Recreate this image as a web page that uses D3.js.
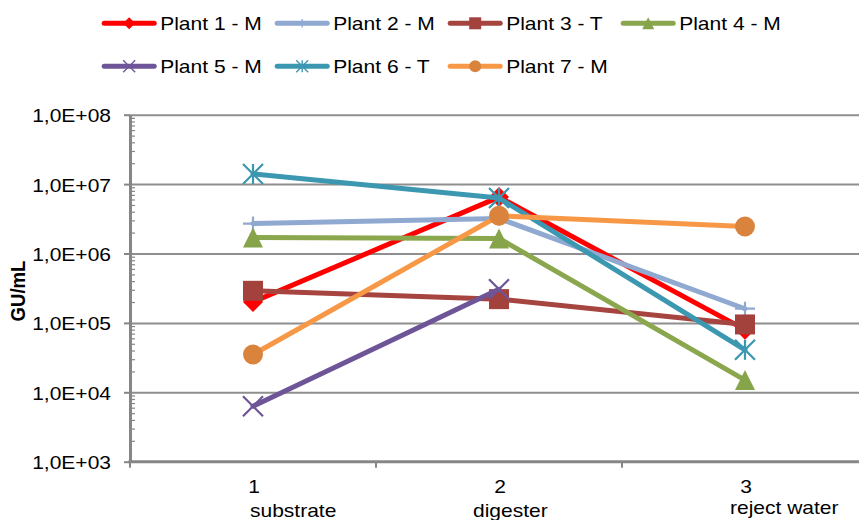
<!DOCTYPE html>
<html>
<head>
<meta charset="utf-8">
<script src="https://cdn.jsdelivr.net/npm/d3@7/dist/d3.min.js"></script>
<style>
  html, body { margin: 0; padding: 0; background: #fff; }
  svg { display: block; font-family: "Liberation Sans", Arial, sans-serif; }
</style>
</head>
<body>
<svg id="chart" width="859" height="520"></svg>
<script>
// Sampling points along the plant
const categories = ["1", "2", "3"];
const categoryNames = ["substrate", "digester", "reject water"];

// Gene copies per mL at each sampling point (null = not measured)
const plant1 = [2.0e5, 6.5e6, 8.0e4];
const plant2 = [2.7e6, 3.2e6, 1.6e5];
const plant3 = [2.9e5, 2.2e5, 9.5e4];
const plant4 = [1.7e6, 1.65e6, 1.5e4];
const plant5 = [6.3e3, 3.05e5, null];
const plant6 = [1.4e7, 6.3e6, 4.1e4];
const plant7 = [3.5e4, 3.5e6, 2.45e6];

const seriesNames = ["Plant 1 - M", "Plant 2 - M", "Plant 3 - T", "Plant 4 - M",
                     "Plant 5 - M", "Plant 6 - T", "Plant 7 - M"];

const yTickValues = [1e3, 1e4, 1e5, 1e6, 1e7, 1e8];
const yTickLabels = ["1,0E+03", "1,0E+04", "1,0E+05", "1,0E+06", "1,0E+07", "1,0E+08"];
const yTitle = "GU/mL";

const styles = [
  { line: "#FF0000", mark: "#FF0000", shape: "diamond" },
  { line: "#8FA9D1", mark: "#8FA9D1", shape: "plus" },
  { line: "#A6443F", mark: "#A3413D", shape: "square" },
  { line: "#8AA74D", mark: "#86A44A", shape: "triangle" },
  { line: "#6E5597", mark: "#6E5597", shape: "cross" },
  { line: "#3C97B1", mark: "#3C97B1", shape: "star" },
  { line: "#F79846", mark: "#D9833C", shape: "circle" }
];

const seriesValues = [plant1, plant2, plant3, plant4, plant5, plant6, plant7];
const series = seriesNames.map((name, i) => ({
  name,
  style: styles[i],
  points: seriesValues[i].map((v, j) => ({ cat: categories[j], v }))
}));

const svg = d3.select("#chart");
const W = 859;
const plotLeft = 130, plotRight = 868, plotTop = 114.7, plotBottom = 461.7;
const SX = 1.13; // horizontal text stretch
const fontSize = 18.6;

const x = d3.scalePoint().domain(categories).range([plotLeft, plotRight]).padding(0.5);
const y = d3.scaleLog().domain([1e3, 1e8]).range([plotBottom, plotTop]);

const gridColor = "#8E8E8E";
const axisColor = "#868686";

// Horizontal gridlines
const grid = svg.append("g")
  .attr("transform", `translate(${plotLeft},0)`)
  .call(d3.axisRight(y).tickValues(yTickValues.slice(1)).tickSize(W - plotLeft).tickFormat(""));
grid.select(".domain").remove();
grid.selectAll("line").attr("stroke", gridColor).attr("stroke-width", 2);

// Minor ticks inside the plot on the log axis
const minorTicks = [];
for (let e = 3; e < 8; e++) for (let m = 2; m <= 9; m++) minorTicks.push(m * Math.pow(10, e));
const minor = svg.append("g")
  .attr("transform", `translate(${plotLeft},0)`)
  .call(d3.axisRight(y).tickValues(minorTicks).tickSize(5).tickFormat(""));
minor.select(".domain").remove();
minor.selectAll("line").attr("stroke", axisColor).attr("stroke-width", 1.2);

// Y axis with major ticks and labels
const yAxis = svg.append("g")
  .attr("transform", `translate(${plotLeft},0)`)
  .call(d3.axisLeft(y).tickValues(yTickValues).tickSizeOuter(0).tickSizeInner(6)
        .tickFormat((d, i) => yTickLabels[i]));
yAxis.select(".domain").attr("stroke", axisColor).attr("stroke-width", 3);
yAxis.selectAll(".tick line").attr("stroke", axisColor).attr("stroke-width", 2);
yAxis.selectAll(".tick text").remove();
yAxis.selectAll(".tick").append("text")
  .attr("transform", `translate(-19,7) scale(${SX},1)`)
  .attr("text-anchor", "end")
  .attr("fill", "#000")
  .style("font-size", fontSize + "px")
  .text((d, i) => yTickLabels[i]);

// X axis: baseline and category separators
const band = x.step();
svg.append("line")
  .attr("x1", plotLeft - 1.5).attr("x2", W)
  .attr("y1", plotBottom).attr("y2", plotBottom)
  .attr("stroke", axisColor).attr("stroke-width", 3);
svg.append("g").selectAll("line")
  .data(categories.slice(0, -1))
  .join("line")
  .attr("x1", d => x(d) + band / 2).attr("x2", d => x(d) + band / 2)
  .attr("y1", plotBottom).attr("y2", plotBottom + 6)
  .attr("stroke", axisColor).attr("stroke-width", 2);
svg.append("line")
  .attr("x1", plotLeft).attr("x2", plotLeft)
  .attr("y1", plotBottom).attr("y2", plotBottom + 6)
  .attr("stroke", axisColor).attr("stroke-width", 2);

// Category labels (number over name)
const nameOffsets = [-3, -26, -15];
const nameBaselines = [516.5, 516.5, 514];
const catG = svg.append("g");
categories.forEach((c, i) => {
  catG.append("text")
    .attr("transform", `translate(${x(c) + 1},493) scale(${SX},1)`)
    .attr("text-anchor", "middle")
    .style("font-size", fontSize + "px")
    .text(c);
  catG.append("text")
    .attr("transform", `translate(${x(c) + nameOffsets[i]},${nameBaselines[i]}) scale(${SX},1)`)
    .attr("text-anchor", "start")
    .style("font-size", fontSize + "px")
    .text(categoryNames[i]);
});

// Y axis title
svg.append("text")
  .attr("transform", `translate(25,291) scale(${SX},1) rotate(-90)`)
  .attr("text-anchor", "middle")
  .style("font-size", "18.6px")
  .style("font-weight", "bold")
  .text(yTitle);

// Marker drawing
function drawMarker(g, shape, color, s) {
  const h = s / 2;
  switch (shape) {
    case "diamond":
      g.append("path").attr("d", `M0,${-h}L${h},0L0,${h}L${-h},0Z`).attr("fill", color);
      break;
    case "square":
      g.append("rect").attr("x", -h).attr("y", -h).attr("width", s).attr("height", s).attr("fill", color);
      break;
    case "triangle":
      g.append("path").attr("d", `M0,${-h}L${h},${h}L${-h},${h}Z`).attr("fill", color);
      break;
    case "circle":
      g.append("circle").attr("r", h).attr("fill", color);
      break;
    case "plus":
      g.append("path").attr("d", `M${-h},0H${h}M0,${-h * 0.7}V${h * 0.7}`)
        .attr("stroke", color).attr("stroke-width", s / 9).attr("fill", "none");
      break;
    case "cross":
      g.append("path").attr("d", `M${-h},${-h}L${h},${h}M${-h},${h}L${h},${-h}`)
        .attr("stroke", color).attr("stroke-width", s / 9).attr("fill", "none");
      break;
    case "star":
      g.append("path").attr("d", `M${-h},${-h}L${h},${h}M${-h},${h}L${h},${-h}M0,${-h}V${h}`)
        .attr("stroke", color).attr("stroke-width", s / 9).attr("fill", "none");
      break;
  }
}

// Series lines and markers
const line = d3.line()
  .defined(d => d.v != null)
  .x(d => x(d.cat))
  .y(d => y(d.v));

const seriesG = svg.append("g").selectAll("g").data(series).join("g");
seriesG.each(function (s) {
  const g = d3.select(this);
  g.append("path")
    .attr("d", line(s.points))
    .attr("fill", "none")
    .attr("stroke", s.style.line)
    .attr("stroke-width", 5)
    .attr("stroke-linejoin", "round")
    .attr("stroke-linecap", "round");
  s.points.filter(p => p.v != null).forEach(p => {
    const m = g.append("g").attr("transform", `translate(${x(p.cat)},${y(p.v)})`);
    drawMarker(m, s.style.shape, s.style.mark, 20);
  });
});

// Legend: two rows of four
const legend = svg.append("g");
series.forEach((s, i) => {
  const col = i % 4, row = Math.floor(i / 4);
  const lx = 101.7 + col * 173, ly = 23.3 + row * 43;
  const item = legend.append("g").attr("transform", `translate(${lx},${ly})`);
  item.append("line")
    .attr("x1", 2.5).attr("x2", 52.5).attr("y1", 0).attr("y2", 0)
    .attr("stroke", s.style.line).attr("stroke-width", 5).attr("stroke-linecap", "round");
  const m = item.append("g").attr("transform", "translate(27.5,0)");
  drawMarker(m, s.style.shape, s.style.mark, 12);
  item.append("text")
    .attr("transform", `translate(58.5,6.3) scale(${SX},1)`)
    .style("font-size", fontSize + "px")
    .text(s.name);
});
</script>
</body>
</html>
